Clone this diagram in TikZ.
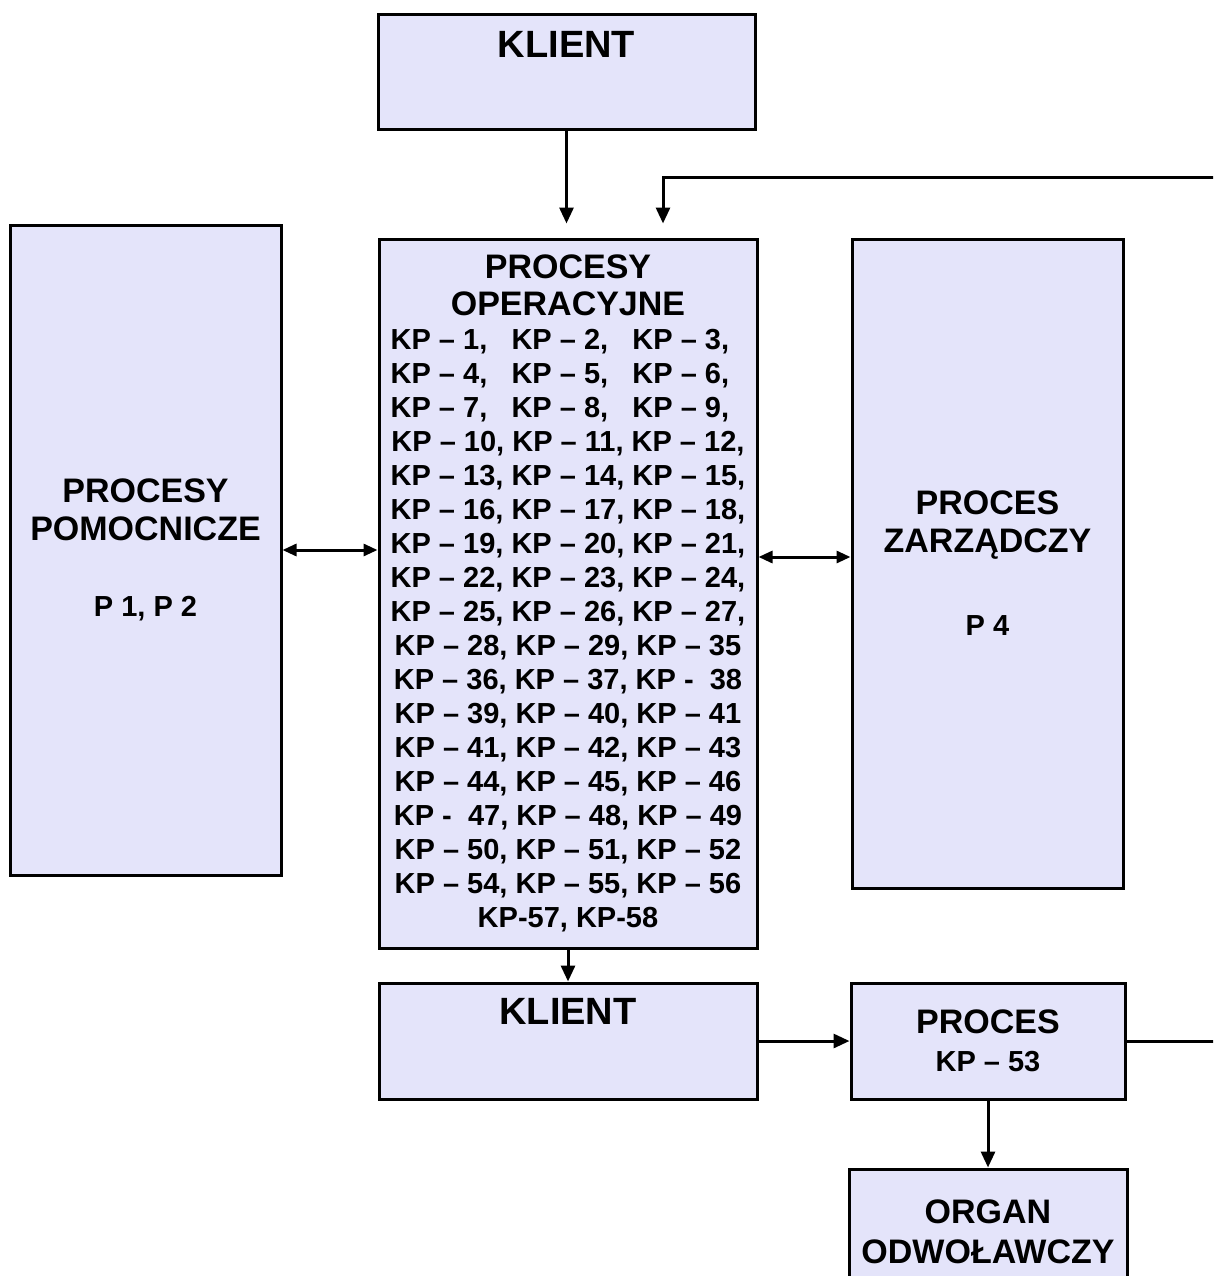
\documentclass[tikz,border=0pt]{standalone}
\usepackage{fontspec}
\setmainfont{Liberation Sans}
\usetikzlibrary{positioning,arrows.meta}
\definecolor{procfill}{RGB}{228,228,250}
\newcommand{\headfont}{\fontsize{34}{38}\selectfont\bfseries}
\newcommand{\kpfont}{\fontsize{29}{34}\selectfont\bfseries}

\begin{document}
\begin{tikzpicture}[x=1pt, y=-1pt,
    proc/.style={draw, line width=3pt, fill=procfill, inner sep=0pt, align=center, font=\headfont},
    title/.style={inner sep=0pt, font=\fontsize{38}{42}\selectfont\bfseries},
    uni/.style={-{Triangle[length=16pt,width=14pt]}, line width=3pt},
    map/.style={{Triangle[length=14pt,width=12pt]}-{Triangle[length=14pt,width=12pt]}, line width=3pt},
    plain/.style={line width=3pt}
]
    \clip (0,0) rectangle (1213,1276);
    \fill[white] (0,0) rectangle (1213,1276);

    % Klient on top
    \node[proc, minimum width=377pt, minimum height=115pt] (klienttop) at (566.5,72.5) {};
    \node[title, below=18pt of klienttop.north] (klienttoptxt) {KLIENT};

    % Three process columns
    \node[proc, minimum width=271pt, minimum height=650pt] (pomocnicze) at (145.5,550)
        {PROCESY\\POMOCNICZE\\[38pt] \kpfont P 1, P 2};

    \node[proc, minimum width=378pt, minimum height=709pt, font=\fontsize{34}{34}\selectfont\bfseries] (operacyjne) at (568,593.5)
        {PROCESY\\[3pt]OPERACYJNE\\
        \kpfont KP – 1,\phantom{0} KP – 2,\phantom{0} KP – 3,\phantom{0}\\
        \kpfont KP – 4,\phantom{0} KP – 5,\phantom{0} KP – 6,\phantom{0}\\
        \kpfont KP – 7,\phantom{0} KP – 8,\phantom{0} KP – 9,\phantom{0}\\
        \kpfont KP – 10, KP – 11, KP – 12,\\
        \kpfont KP – 13, KP – 14, KP – 15,\\
        \kpfont KP – 16, KP – 17, KP – 18,\\
        \kpfont KP – 19, KP – 20, KP – 21,\\
        \kpfont KP – 22, KP – 23, KP – 24,\\
        \kpfont KP – 25, KP – 26, KP – 27,\\
        \kpfont KP – 28, KP – 29, KP – 35\\
        \kpfont KP – 36, KP – 37, KP -\ \ 38\\
        \kpfont KP – 39, KP – 40, KP – 41\\
        \kpfont KP – 41, KP – 42, KP – 43\\
        \kpfont KP – 44, KP – 45, KP – 46\\
        \kpfont KP -\ \ 47, KP – 48, KP – 49\\
        \kpfont KP – 50, KP – 51, KP – 52\\
        \kpfont KP – 54, KP – 55, KP – 56\\
        \kpfont KP-57, KP-58};

    \node[proc, minimum width=271pt, minimum height=649pt] (zarzadczy) at (987.5,563.5)
        {PROCES\\ZARZĄDCZY\\[45pt] \kpfont P 4};

    % Bottom row
    \node[proc, minimum width=378pt, minimum height=116pt, below=32pt of operacyjne] (klientbot) {};
    \node[title, below=17pt of klientbot.north] (klientbottxt) {KLIENT};

    \node[proc, minimum width=274pt, minimum height=116pt, right=91pt of klientbot] (kp53)
        {PROCES\\ \kpfont KP – 53};

    \node[proc, minimum width=278pt, minimum height=125pt, below=67pt of kp53] (organ)
        {ORGAN\\[2pt]ODWOŁAWCZY};

    % Connectors
    \coordinate (feedin) at (1230,178);
    \coordinate (kpout) at (kp53.east -| feedin);

    \draw[uni, shorten >=14pt] (klienttop.south) -- (klienttop.south |- operacyjne.north);
    \draw[uni, shorten >=14pt] (feedin) -| ([xshift=95pt]operacyjne.north);
    \draw[map] (pomocnicze.east) -- (pomocnicze.east -| operacyjne.west);
    \draw[map] ([yshift=6.5pt]zarzadczy.west) -- ([yshift=6.5pt]zarzadczy.west -| operacyjne.east);
    \draw[uni] (operacyjne.south) -- (klientbot.north);
    \draw[uni] (klientbot.east) -- (klientbot.east -| kp53.west);
    \draw[plain] (kp53.east) -- (kpout);
    \draw[uni] (kp53.south) -- (organ.north);

\end{tikzpicture}
\end{document}
